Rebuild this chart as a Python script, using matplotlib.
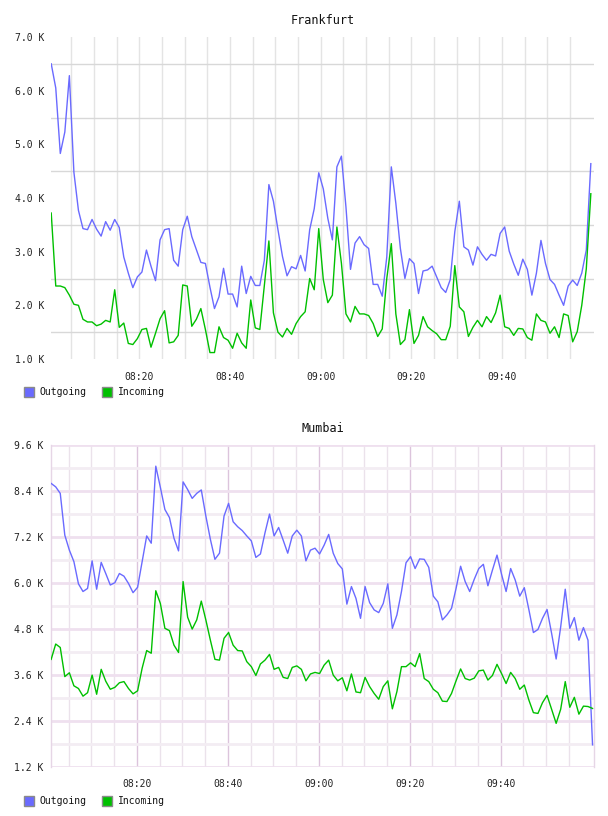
import matplotlib
matplotlib.use("Agg")
import matplotlib.pyplot as plt
from matplotlib.patches import Rectangle

# ---------------- data (values in K) ----------------
fra_outgoing = [6.50, 6.05, 4.83, 5.23, 6.28, 4.48, 3.77, 3.43, 3.41, 3.60,
                3.42, 3.29, 3.56, 3.40, 3.60, 3.45, 2.90, 2.60, 2.33, 2.53,
                2.62, 3.03, 2.73, 2.46, 3.22, 3.41, 3.43, 2.84, 2.73, 3.41,
                3.66, 3.28, 3.04, 2.80, 2.78, 2.34, 1.94, 2.16, 2.69, 2.21,
                2.21, 1.97, 2.73, 2.22, 2.54, 2.37, 2.37, 2.84, 4.25, 3.94,
                3.41, 2.91, 2.55, 2.72, 2.68, 2.93, 2.64, 3.41, 3.80, 4.47,
                4.17, 3.62, 3.22, 4.58, 4.78, 3.83, 2.67, 3.16, 3.28, 3.13,
                3.06, 2.39, 2.39, 2.17, 2.90, 4.58, 3.90, 3.06, 2.50, 2.87,
                2.78, 2.22, 2.64, 2.66, 2.73, 2.53, 2.33, 2.24, 2.48, 3.37,
                3.94, 3.09, 3.03, 2.75, 3.09, 2.95, 2.84, 2.95, 2.92, 3.34,
                3.46, 3.01, 2.77, 2.56, 2.86, 2.67, 2.19, 2.60, 3.21, 2.78,
                2.48, 2.39, 2.19, 2.00, 2.36, 2.47, 2.37, 2.60, 3.03, 4.64]
fra_incoming = [3.72, 2.36, 2.36, 2.33, 2.19, 2.02, 2.00, 1.74, 1.69, 1.69,
                1.62, 1.65, 1.72, 1.69, 2.29, 1.59, 1.67, 1.29, 1.27, 1.38,
                1.55, 1.57, 1.22, 1.48, 1.75, 1.90, 1.30, 1.32, 1.44, 2.38,
                2.36, 1.61, 1.74, 1.94, 1.55, 1.12, 1.12, 1.60, 1.40, 1.35,
                1.20, 1.48, 1.30, 1.20, 2.10, 1.58, 1.55, 2.37, 3.20, 1.86,
                1.50, 1.41, 1.57, 1.46, 1.66, 1.79, 1.88, 2.50, 2.29, 3.43,
                2.48, 2.05, 2.19, 3.46, 2.78, 1.84, 1.69, 1.98, 1.84, 1.84,
                1.81, 1.66, 1.42, 1.56, 2.50, 3.15, 1.84, 1.27, 1.36, 1.92,
                1.29, 1.44, 1.79, 1.60, 1.53, 1.47, 1.36, 1.36, 1.61, 2.74,
                1.97, 1.88, 1.42, 1.59, 1.72, 1.60, 1.79, 1.68, 1.86, 2.19,
                1.60, 1.57, 1.44, 1.57, 1.56, 1.40, 1.35, 1.84, 1.72, 1.69,
                1.48, 1.60, 1.40, 1.84, 1.81, 1.32, 1.51, 2.00, 2.68, 4.08]

mum_outgoing = [8.59, 8.50, 8.33, 7.24, 6.85, 6.55, 5.97, 5.77, 5.85, 6.57,
                5.83, 6.53, 6.24, 5.94, 6.00, 6.24, 6.17, 5.98, 5.74, 5.88,
                6.55, 7.22, 7.03, 9.04, 8.49, 7.91, 7.70, 7.16, 6.83, 8.63,
                8.43, 8.20, 8.33, 8.42, 7.74, 7.13, 6.61, 6.77, 7.74, 8.07,
                7.59, 7.46, 7.36, 7.22, 7.09, 6.66, 6.75, 7.30, 7.79, 7.22,
                7.44, 7.11, 6.77, 7.22, 7.37, 7.22, 6.57, 6.85, 6.90, 6.75,
                6.98, 7.26, 6.77, 6.50, 6.36, 5.44, 5.90, 5.59, 5.07, 5.90,
                5.48, 5.29, 5.22, 5.46, 5.97, 4.81, 5.16, 5.77, 6.52, 6.68,
                6.37, 6.62, 6.61, 6.40, 5.65, 5.50, 5.03, 5.16, 5.33, 5.85,
                6.43, 6.03, 5.77, 6.09, 6.37, 6.48, 5.92, 6.33, 6.72, 6.22,
                5.77, 6.37, 6.07, 5.65, 5.87, 5.30, 4.70, 4.78, 5.07, 5.30,
                4.68, 4.01, 4.85, 5.83, 4.81, 5.09, 4.50, 4.83, 4.50, 1.77]
mum_incoming = [4.00, 4.40, 4.31, 3.55, 3.65, 3.31, 3.24, 3.04, 3.13, 3.59,
                3.09, 3.74, 3.43, 3.22, 3.27, 3.39, 3.42, 3.24, 3.10, 3.18,
                3.77, 4.23, 4.16, 5.79, 5.46, 4.81, 4.75, 4.37, 4.18, 6.03,
                5.10, 4.79, 5.03, 5.52, 5.03, 4.50, 4.00, 3.98, 4.55, 4.70,
                4.37, 4.23, 4.22, 3.94, 3.81, 3.58, 3.88, 3.98, 4.13, 3.74,
                3.79, 3.53, 3.50, 3.79, 3.83, 3.74, 3.44, 3.62, 3.66, 3.63,
                3.85, 3.98, 3.59, 3.44, 3.52, 3.18, 3.62, 3.15, 3.13, 3.53,
                3.29, 3.11, 2.96, 3.29, 3.44, 2.71, 3.16, 3.81, 3.81, 3.91,
                3.81, 4.15, 3.50, 3.42, 3.22, 3.13, 2.91, 2.90, 3.11, 3.44,
                3.75, 3.50, 3.46, 3.51, 3.70, 3.72, 3.46, 3.58, 3.87, 3.63,
                3.37, 3.66, 3.50, 3.22, 3.33, 2.94, 2.61, 2.59, 2.87, 3.06,
                2.70, 2.33, 2.70, 3.42, 2.75, 3.01, 2.57, 2.78, 2.77, 2.72]

# minutes after 08:00 of the first sample, one sample per minute
fra_start = 0.6
mum_start = 1.18

x_tick_minutes = [20, 40, 60, 80, 100]
x_tick_labels = ["08:20", "08:40", "09:00", "09:20", "09:40"]
grid_minutes = list(range(5, 120, 5))

fra_yticks = [1, 2, 3, 4, 5, 6, 7]
fra_ylabels = ["1.0 K", "2.0 K", "3.0 K", "4.0 K", "5.0 K", "6.0 K", "7.0 K"]
fra_hgrid = [1.5, 2.5, 3.5, 4.5, 5.5, 6.5]

mum_yticks = [1.2, 2.4, 3.6, 4.8, 6.0, 7.2, 8.4, 9.6]
mum_ylabels = ["1.2 K", "2.4 K", "3.6 K", "4.8 K", "6.0 K", "7.2 K", "8.4 K", "9.6 K"]
mum_hgrid_minor = [1.8, 3.0, 4.2, 5.4, 6.6, 7.8, 9.0]

series_names = ["Outgoing", "Incoming"]
series_colors = ["#6a6aff", "#00c000"]

# ---------------- layout ----------------
W, H = 608, 816
FONT = "DejaVu Sans Mono"
plt.rcParams["font.family"] = [FONT]

fig = plt.figure(figsize=(W / 100, H / 100), dpi=100)
fig.patch.set_facecolor("white")


def rect(l, t, r, b):
    return [l / W, 1 - b / H, (r - l) / W, (b - t) / H]


def legend(y_px):
    entries = [(24, 39), (102, 118)]
    for (sx, tx), name, col in zip(entries, series_names, series_colors):
        fig.patches.append(Rectangle((sx / W, 1 - (y_px + 5) / H), 10 / W, 10 / H,
                                     transform=fig.transFigure, facecolor=col,
                                     edgecolor="#8a8a8a", lw=1.0))
        fig.text(tx / W, 1 - y_px / H, name, fontsize=7, color="#111111",
                 va="center", ha="left")


def style_common(ax):
    for s in ax.spines.values():
        s.set_visible(False)
    ax.tick_params(length=0, labelsize=7, colors="#222222")
    ax.set_xticks(x_tick_minutes)
    ax.set_xticklabels(x_tick_labels)


# ---------- Frankfurt ----------
ax1 = fig.add_axes(rect(51, 37, 594, 359))
style_common(ax1)
ax1.set_xlim(fra_start - 0.05, 120.3)
ax1.set_ylim(1.0, 7.0)
for m in grid_minutes:
    ax1.axvline(m, color="#e4e4e4", lw=1.0, zorder=0)
for v in fra_hgrid:
    ax1.axhline(v, color="#d8d8d8", lw=1.0, zorder=0)
ax1.set_yticks(fra_yticks)
ax1.set_yticklabels(fra_ylabels)
ax1.tick_params(axis="y", pad=5)
ax1.tick_params(axis="x", pad=9)
xs1 = [fra_start + i for i in range(len(fra_outgoing))]
ax1.plot(xs1, fra_outgoing, color=series_colors[0], lw=1.0, zorder=3)
ax1.plot(xs1, fra_incoming, color=series_colors[1], lw=1.0, zorder=3)
fig.text(322.5 / W, 1 - 20 / H, "Frankfurt", fontsize=8.5, ha="center",
         va="center", color="#111111")
legend(392)

# ---------- Mumbai ----------
ax2 = fig.add_axes(rect(50.7, 444.7, 594, 766.7))
style_common(ax2)
ax2.set_xlim(mum_start - 0.1, 120.5)
ax2.set_ylim(1.2, 9.6)
for m in grid_minutes:
    major = m % 20 == 0
    ax2.axvline(m, color="#dcc4dc" if major else "#ebe2eb", lw=1.0, zorder=0)
for v in mum_yticks:
    ax2.axhline(v, color="#efe0ef", lw=2.0, zorder=0)
for v in mum_hgrid_minor:
    ax2.axhline(v, color="#f3edf3", lw=2.0, zorder=0)
for s in ["left", "right"]:
    ax2.spines[s].set_visible(True)
    ax2.spines[s].set_color("#e6d6e6")
    ax2.spines[s].set_linewidth(1.0)
ax2.set_yticks(mum_yticks)
ax2.set_yticklabels(mum_ylabels)
ax2.tick_params(axis="y", pad=5)
ax2.tick_params(axis="x", pad=9)
xs2 = [mum_start + i for i in range(len(mum_outgoing))]
ax2.plot(xs2, mum_outgoing, color=series_colors[0], lw=1.0, zorder=3)
ax2.plot(xs2, mum_incoming, color=series_colors[1], lw=1.0, zorder=3)
fig.text(322.5 / W, 1 - 429 / H, "Mumbai", fontsize=8.5, ha="center",
         va="center", color="#111111")
legend(800.5)

fig.savefig("out.png", dpi=100, facecolor="white")
